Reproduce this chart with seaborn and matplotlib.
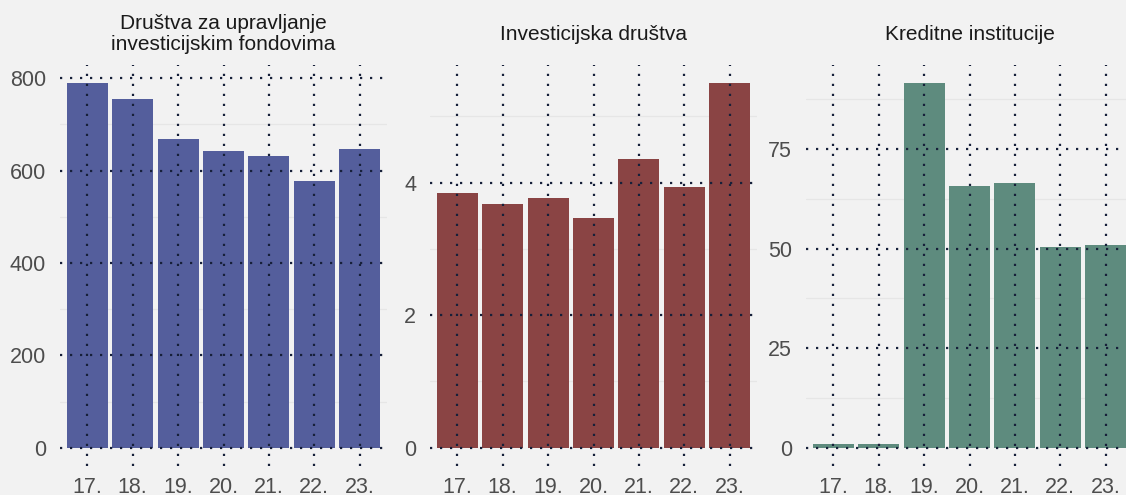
import matplotlib
matplotlib.use("Agg")
import matplotlib.pyplot as plt
from matplotlib.ticker import MultipleLocator
import seaborn as sns
import pandas as pd

years = ["17.", "18.", "19.", "20.", "21.", "22.", "23."]
titles = ["Društva za upravljanje\ninvesticijskim fondovima",
          "Investicijska društva",
          "Kreditne institucije"]
values_fund = [789, 755, 668, 642, 631, 578, 647]
values_inv = [3.85, 3.68, 3.77, 3.47, 4.36, 3.94, 5.50]
values_cred = [1.0, 1.0, 91.5, 65.7, 66.5, 50.5, 51.0]
colors = ["#545e9c", "#8a4444", "#5e8b7e"]
major_steps = [200, 2, 25]

sns.set_theme(style="white")
plt.rcParams["font.family"] = ["Liberation Sans", "DejaVu Sans"]

BG = "#f2f2f2"
GRID = "#17203a"
fig = plt.figure(figsize=(11.26, 4.95), dpi=100, facecolor=BG)

W, H = 1126, 495
lefts = [60, 430, 806]
ax_w, top_px, bot_px = 327, 65, 466

for i, (vals, title, col, step) in enumerate(
        zip([values_fund, values_inv, values_cred], titles, colors, major_steps)):
    ax = fig.add_axes([lefts[i] / W, (H - bot_px) / H, ax_w / W, (bot_px - top_px) / H])
    ax.set_facecolor(BG)
    df = pd.DataFrame({"year": years, "value": vals})
    sns.barplot(data=df, x="year", y="value", color=col, saturation=1,
                width=0.9, ax=ax, zorder=2, linewidth=0, edgecolor="none")
    vmax = max(vals)
    ax.set_ylim(-0.05 * vmax, 1.05 * vmax)
    ax.set_xlim(-0.6, len(years) - 0.4)
    ax.yaxis.set_major_locator(MultipleLocator(step))
    ax.yaxis.set_minor_locator(MultipleLocator(step / 2))
    for y in ax.yaxis.get_minorticklocs():
        if ax.get_ylim()[0] <= y <= ax.get_ylim()[1] and (y / step) % 1 != 0:
            ax.axhline(y, color="#e6e6e6", lw=0.9, zorder=0.5)
    ax.set_axisbelow(False)
    ax.grid(True, which="major", axis="both", color=GRID, lw=1.6,
            linestyle=(0, (1, 3.5)), dash_capstyle="butt")
    for s in ax.spines.values():
        s.set_visible(False)
    ax.tick_params(axis="both", which="both", length=0, labelsize=15.5,
                   labelcolor="#4d4d4d")
    ax.tick_params(axis="y", pad=10)
    ax.tick_params(axis="x", pad=8)
    ax.set_xlabel("")
    ax.set_ylabel("")
    ax.text(0.5, 1.077, title, transform=ax.transAxes, ha="center", va="center",
            fontsize=15, color="#1a1a1a", linespacing=1.15)

fig.savefig("out.png", dpi=100, facecolor=BG)
